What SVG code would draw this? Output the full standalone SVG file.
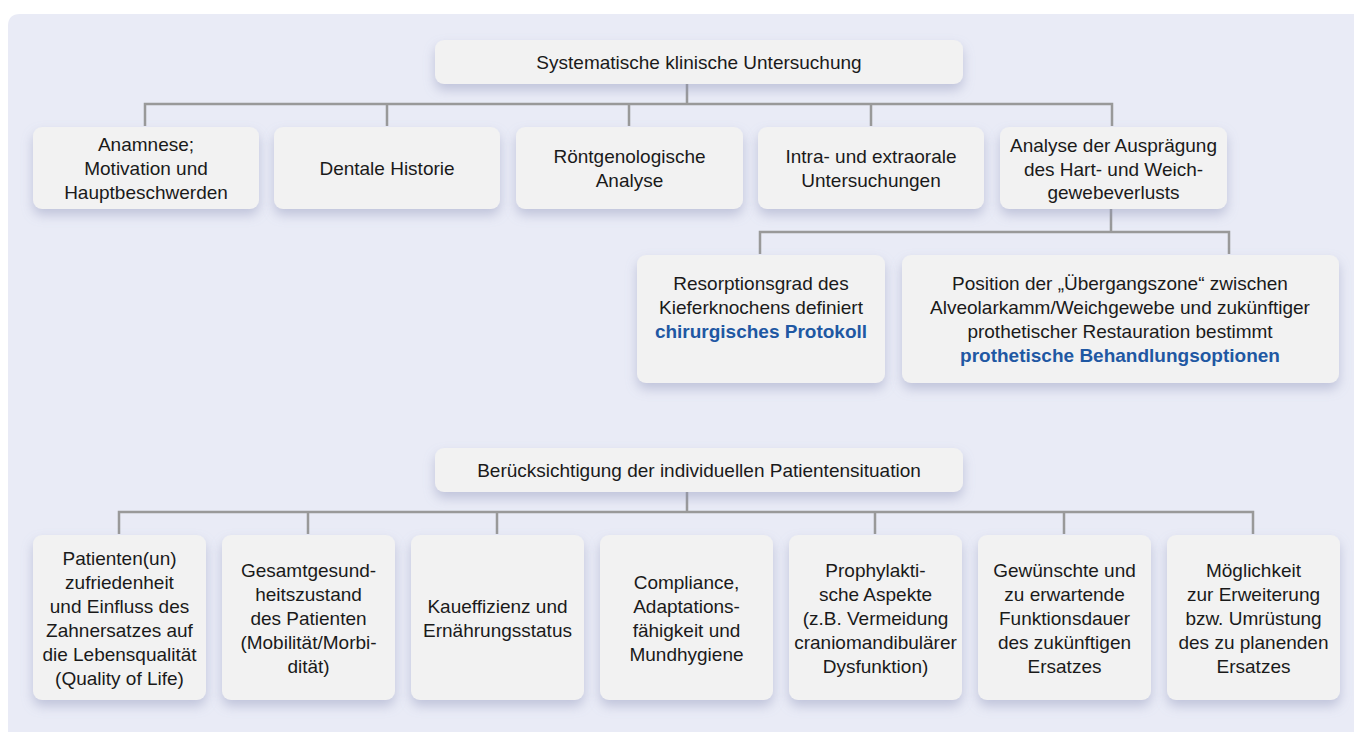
<svg xmlns="http://www.w3.org/2000/svg" width="1354" height="733" viewBox="0 0 1354 733">
<defs>
<filter id="sh" x="-20%" y="-20%" width="140%" height="160%">
<feDropShadow dx="0" dy="6" stdDeviation="6" flood-color="#8c93b8" flood-opacity="0.45"/>
</filter>
<style>
.box{fill:#f2f2f2;filter:url(#sh);}
.t{font-family:"Liberation Sans",Arial,Helvetica,sans-serif;font-size:19px;fill:#1a1a1a;text-anchor:middle;}
.b{font-weight:bold;fill:#1f58a3;}
.c{fill:none;stroke:#999;stroke-width:2.5;}
</style>
</defs>
<rect x="0" y="0" width="1354" height="733" fill="#ffffff"/>
<path d="M8,26 Q8,14 20,14 L1354,14 L1354,732 L8,732 Z" fill="#e9ebf6"/>
<g id="connectors">
<path class="c" d="M687,84 V104 M145,126 V104 H1112 V126 M387,104 V126 M629,104 V126 M871,104 V126"/>
<path class="c" d="M1111,209 V232 M760,254 V232 H1229 V254"/>
<path class="c" d="M687,492 V512 M119,534 V512 H1253 V534 M308,512 V534 M497,512 V534 M875,512 V534 M1064,512 V534"/>
</g>
<g id="top">
<rect class="box" x="435" y="40" width="528" height="44" rx="9"/>
<text class="t" x="699" y="69">Systematische klinische Untersuchung</text>
</g>
<g id="n1">
<rect class="box" x="33" y="127" width="226" height="82" rx="9"/>
<text class="t" x="146" y="151">Anamnese;</text>
<text class="t" x="146" y="175">Motivation und</text>
<text class="t" x="146" y="199">Hauptbeschwerden</text>
</g>
<g id="n2">
<rect class="box" x="274" y="127" width="226" height="82" rx="9"/>
<text class="t" x="387" y="175">Dentale Historie</text>
</g>
<g id="n3">
<rect class="box" x="516" y="127" width="227" height="82" rx="9"/>
<text class="t" x="629.5" y="163">Röntgenologische</text>
<text class="t" x="629.5" y="187">Analyse</text>
</g>
<g id="n4">
<rect class="box" x="758" y="127" width="226" height="82" rx="9"/>
<text class="t" x="871" y="163">Intra- und extraorale</text>
<text class="t" x="871" y="187">Untersuchungen</text>
</g>
<g id="n5">
<rect class="box" x="1000" y="127" width="227" height="82" rx="9"/>
<text class="t" x="1113.5" y="152">Analyse der Ausprägung</text>
<text class="t" x="1113.5" y="176">des Hart- und Weich-</text>
<text class="t" x="1113.5" y="199">gewebeverlusts</text>
</g>
<g id="nA">
<rect class="box" x="637" y="255" width="248" height="128" rx="9"/>
<text class="t" x="761" y="290">Resorptionsgrad des</text>
<text class="t" x="761" y="314">Kieferknochens definiert</text>
<text class="t b" x="761" y="338">chirurgisches Protokoll</text>
</g>
<g id="nB">
<rect class="box" x="902" y="255" width="437" height="128" rx="9"/>
<text class="t" x="1120" y="290">Position der „Übergangszone“ zwischen</text>
<text class="t" x="1120" y="314">Alveolarkamm/Weichgewebe und zukünftiger</text>
<text class="t" x="1120" y="338">prothetischer Restauration bestimmt</text>
<text class="t b" x="1120" y="362">prothetische Behandlungsoptionen</text>
</g>
<g id="top2">
<rect class="box" x="435" y="448" width="528" height="44" rx="9"/>
<text class="t" x="699" y="477">Berücksichtigung der individuellen Patientensituation</text>
</g>
<g id="m1">
<rect class="box" x="33" y="535" width="173" height="165" rx="9"/>
<text class="t" x="119.5" y="564.5">Patienten(un)</text>
<text class="t" x="119.5" y="588.5">zufriedenheit</text>
<text class="t" x="119.5" y="612.5">und Einfluss des</text>
<text class="t" x="119.5" y="636.5">Zahnersatzes auf</text>
<text class="t" x="119.5" y="660.5">die Lebensqualität</text>
<text class="t" x="119.5" y="684.5">(Quality of Life)</text>
</g>
<g id="m2">
<rect class="box" x="222" y="535" width="173" height="165" rx="9"/>
<text class="t" x="308.5" y="576.5">Gesamtgesund-</text>
<text class="t" x="308.5" y="600.5">heitszustand</text>
<text class="t" x="308.5" y="624.5">des Patienten</text>
<text class="t" x="308.5" y="648.5">(Mobilität/Morbi-</text>
<text class="t" x="308.5" y="672.5">dität)</text>
</g>
<g id="m3">
<rect class="box" x="411" y="535" width="173" height="165" rx="9"/>
<text class="t" x="497.5" y="612.5">Kaueffizienz und</text>
<text class="t" x="497.5" y="636.5">Ernährungsstatus</text>
</g>
<g id="m4">
<rect class="box" x="600" y="535" width="173" height="165" rx="9"/>
<text class="t" x="686.5" y="588.5">Compliance,</text>
<text class="t" x="686.5" y="612.5">Adaptations-</text>
<text class="t" x="686.5" y="636.5">fähigkeit und</text>
<text class="t" x="686.5" y="660.5">Mundhygiene</text>
</g>
<g id="m5">
<rect class="box" x="789" y="535" width="173" height="165" rx="9"/>
<text class="t" x="875.5" y="576.5">Prophylakti-</text>
<text class="t" x="875.5" y="600.5">sche Aspekte</text>
<text class="t" x="875.5" y="624.5">(z.B. Vermeidung</text>
<text class="t" x="875.5" y="648.5">craniomandibulärer</text>
<text class="t" x="875.5" y="672.5">Dysfunktion)</text>
</g>
<g id="m6">
<rect class="box" x="978" y="535" width="173" height="165" rx="9"/>
<text class="t" x="1064.5" y="576.5">Gewünschte und</text>
<text class="t" x="1064.5" y="600.5">zu erwartende</text>
<text class="t" x="1064.5" y="624.5">Funktionsdauer</text>
<text class="t" x="1064.5" y="648.5">des zukünftigen</text>
<text class="t" x="1064.5" y="672.5">Ersatzes</text>
</g>
<g id="m7">
<rect class="box" x="1167" y="535" width="173" height="165" rx="9"/>
<text class="t" x="1253.5" y="576.5">Möglichkeit</text>
<text class="t" x="1253.5" y="600.5">zur Erweiterung</text>
<text class="t" x="1253.5" y="624.5">bzw. Umrüstung</text>
<text class="t" x="1253.5" y="648.5">des zu planenden</text>
<text class="t" x="1253.5" y="672.5">Ersatzes</text>
</g>
</svg>
